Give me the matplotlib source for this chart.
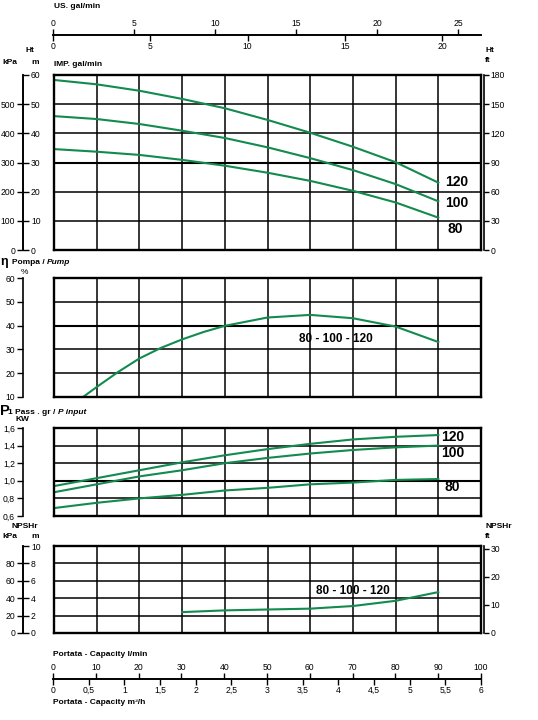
import numpy as np
import matplotlib.pyplot as plt

plt.rcParams['font.family'] = ['Liberation Sans', 'DejaVu Sans']

# values, flow in l/min
flow = [0, 10, 20, 30, 40, 50, 60, 70, 80, 90]
head_120 = [58.3, 56.8, 54.6, 51.8, 48.6, 44.6, 40.2, 35.4, 30.1, 23.1]
head_100 = [45.9, 44.9, 43.2, 40.9, 38.4, 35.2, 31.5, 27.4, 22.6, 16.7]
head_80 = [34.6, 33.7, 32.6, 30.9, 28.9, 26.5, 23.7, 20.3, 16.3, 11.1]

eff_flow = [6.8, 10, 15, 20, 25, 30, 35, 40, 50, 60, 70, 80, 90]
eff = [10.0, 14.2, 20.5, 26.2, 30.6, 34.2, 37.3, 39.9, 43.4, 44.5, 43.1, 39.6, 33.1]

power_120 = [0.94, 1.03, 1.12, 1.21, 1.29, 1.36, 1.42, 1.47, 1.50, 1.52]
power_100 = [0.87, 0.96, 1.05, 1.12, 1.20, 1.26, 1.31, 1.35, 1.38, 1.40]
power_80 = [0.69, 0.75, 0.80, 0.84, 0.89, 0.92, 0.96, 0.98, 1.01, 1.02]

npsh_flow = [30, 40, 50, 60, 70, 80, 90]
npsh = [2.4, 2.6, 2.7, 2.8, 3.1, 3.7, 4.7]

W, H = 538, 720
GREEN = '#138a4e'
TS = 6.2

fig = plt.figure(figsize=(W / 100, H / 100), dpi=100)
renderer = fig.canvas.get_renderer()


def fx(x):
    return x / W


def fy(y):
    return 1 - y / H


def txt(x, y, s, size=6, weight='bold', ha='left', style='normal'):
    return fig.text(fx(x), fy(y), s, fontsize=size, fontweight=weight, ha=ha, va='center', style=style)


def chain(x, y, parts):
    # parts: (text, size, style) written one after the other
    for s, size, style in parts:
        t = txt(x, y, s, size=size, style=style)
        x = t.get_window_extent(renderer).x1


def panel(top, bottom, ylim, hgrid, heavy=None):
    ax = fig.add_axes([fx(54), fy(bottom), 427 / W, (bottom - top) / H])
    ax.set_xlim(0, 100)
    ax.set_ylim(*ylim)
    ax.set_xticks(np.arange(0, 101, 10))
    ax.set_yticks(hgrid)
    ax.tick_params(length=0, labelbottom=False, labelleft=False)
    ax.grid(True, color='black', lw=1.1)
    if heavy is not None:
        ax.axhline(heavy, color='black', lw=1.5)
    for s in ax.spines.values():
        s.set_linewidth(1.7)
    return ax


def yscale(ax, x, ylim, ticks, labels, side, length=4.5):
    pos = ax.get_position()
    a = fig.add_axes([fx(x), pos.y0, 1e-5, pos.height])
    a.set_ylim(*ylim)
    a.set_xticks([])
    a.patch.set_alpha(0)
    for k, s in a.spines.items():
        s.set_visible(k == side)
    a.spines[side].set_linewidth(1.2)
    if side == 'left':
        a.yaxis.tick_left()
    else:
        a.yaxis.tick_right()
    a.set_yticks(ticks, labels)
    a.tick_params(axis='y', length=length, width=1.0, pad=1.2, labelsize=TS)
    return a


def xscale(y, xlim, ticks, labels, side, length=4):
    a = fig.add_axes([fx(53), fy(y), 428 / W, 1e-5])
    a.set_xlim(*xlim)
    a.set_yticks([])
    a.patch.set_alpha(0)
    for k, s in a.spines.items():
        s.set_visible(k == side)
    a.spines[side].set_linewidth(1.2)
    if side == 'top':
        a.xaxis.tick_top()
    else:
        a.xaxis.tick_bottom()
    a.set_xticks(ticks, labels)
    a.tick_params(axis='x', length=length, width=1.0, pad=1.2, labelsize=TS)
    return a


def comma(v, fmt='%g'):
    return (fmt % v).replace('.', ',')


# head
ax1 = panel(75, 250, (0, 60), np.arange(10, 60, 10), 30)
for h in (head_120, head_100, head_80):
    ax1.plot(flow, h, color=GREEN, lw=1.5)
ax1.text(91.6, 23.3, '120', fontsize=10, fontweight='bold', va='center')
ax1.text(91.6, 16.1, '100', fontsize=10, fontweight='bold', va='center')
ax1.text(92.2, 7.2, '80', fontsize=10, fontweight='bold', va='center')
m_ticks = np.arange(0, 61, 10)
yscale(ax1, 23, (0, 60), m_ticks, [str(v) for v in m_ticks], 'right')
kpa_ticks = np.arange(0, 501, 100)
yscale(ax1, 23, (0, 600), kpa_ticks, [str(v) for v in kpa_ticks], 'left')
ft_ticks = np.arange(0, 181, 30)
yscale(ax1, 484, (0, 180), ft_ticks, [str(v) for v in ft_ticks], 'right', length=3.5)

# efficiency
ax2 = panel(278, 397, (10, 60), np.arange(20, 60, 10), 40)
ax2.plot(eff_flow, eff, color=GREEN, lw=1.5)
ax2.text(65.9, 34.4, '80 - 100 - 120', fontsize=8.5, fontweight='bold', ha='center', va='center')
e_ticks = np.arange(10, 61, 10)
yscale(ax2, 23, (10, 60), e_ticks, [str(v) for v in e_ticks], 'left')

# input power
ax3 = panel(428, 516, (0.6, 1.6), [0.8, 1.0, 1.2, 1.4], 1.0)
for p in (power_120, power_100, power_80):
    ax3.plot(flow, p, color=GREEN, lw=1.5)
ax3.text(90.6, 1.50, '120', fontsize=10, fontweight='bold', va='center')
ax3.text(90.6, 1.32, '100', fontsize=10, fontweight='bold', va='center')
ax3.text(91.4, 0.93, '80', fontsize=10, fontweight='bold', va='center')
p_ticks = [0.6, 0.8, 1.0, 1.2, 1.4, 1.6]
yscale(ax3, 23, (0.6, 1.6), p_ticks, [comma(v, '%.1f') for v in p_ticks], 'left')

# NPSH
ax4 = panel(546, 633, (0, 10), np.arange(2, 10, 2))
ax4.plot(npsh_flow, npsh, color=GREEN, lw=1.5)
ax4.text(69.9, 4.8, '80 - 100 - 120', fontsize=8.5, fontweight='bold', ha='center', va='center')
n_ticks = np.arange(0, 11, 2)
yscale(ax4, 23, (0, 10), n_ticks, [str(v) for v in n_ticks], 'right')
nk_ticks = np.arange(0, 81, 20)
yscale(ax4, 23, (0, 100), nk_ticks, [str(v) for v in nk_ticks], 'left')
nf_ticks = np.arange(0, 31, 10)
yscale(ax4, 484, (0, 31), nf_ticks, [str(v) for v in nf_ticks], 'right', length=3.5)

# flow scales
us_ticks = np.arange(0, 26, 5)
xscale(35, (0, 100 / 3.785), us_ticks, [str(v) for v in us_ticks], 'top')
imp_ticks = np.arange(0, 21, 5)
xscale(35, (0, 100 / 4.546), imp_ticks, [str(v) for v in imp_ticks], 'bottom')
l_ticks = np.arange(0, 101, 10)
xscale(679, (0, 100), l_ticks, [str(v) for v in l_ticks], 'top')
m3_ticks = np.arange(0, 6.01, 0.5)
xscale(679, (0, 6), m3_ticks, [comma(v) for v in m3_ticks], 'bottom')

# headings
txt(54, 6, 'US. gal/min')
txt(54, 64, 'IMP. gal/min')
txt(26, 51, 'Ht')
txt(2, 62, 'kPa')
txt(31, 62, 'm')
txt(485, 51, 'Ht')
txt(485, 60, 'ft')
txt(0, 262, 'η', size=9)
chain(12, 263, [('Pompa / ', 6, 'normal'), ('Pump', 6, 'italic')])
txt(21, 272, '%', weight='normal')
txt(0, 411, 'P', size=10.5)
chain(8, 412, [('1 Pass . gr / ', 6, 'normal'), ('P input', 6, 'italic')])
txt(16, 419, 'KW')
txt(12, 527, 'NPSHr')
txt(2, 537, 'kPa')
txt(31, 537, 'm')
txt(485, 527, 'NPSHr')
txt(485, 537, 'ft')
txt(53, 655, 'Portata - Capacity l/min')
txt(53, 703, 'Portata - Capacity m³/h')

fig.savefig('out.png', dpi=100)
